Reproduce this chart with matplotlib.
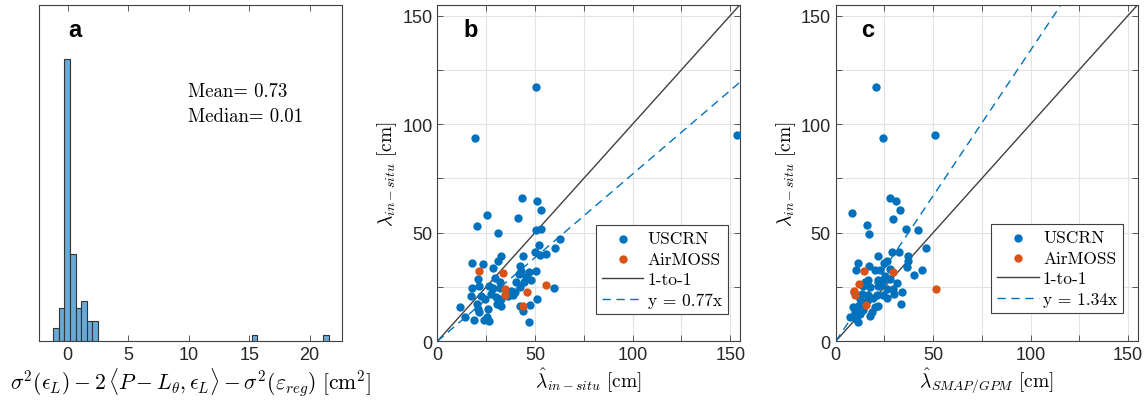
import matplotlib
matplotlib.use("Agg")
import matplotlib.pyplot as plt
import numpy as np

plt.rcParams['font.family'] = ['Liberation Sans', 'DejaVu Sans']
plt.rcParams['mathtext.fontset'] = 'cm'

# panel a: histogram bins (centers) and counts
bin_centers = [-0.96, -0.50, -0.04, 0.43, 0.88, 1.33, 1.80, 2.26, 15.43, 21.34]
bin_counts = [2, 5, 42, 13, 5, 6, 3, 3, 1, 1]
bin_width = 0.46

# panel b: in-situ estimate vs in-situ
b_uscrn_x = [50.6, 19.3, 153.4, 43.3, 51.3, 53.2, 25.5, 41.4, 20.5, 31.1, 50.3, 53.0, 62.6, 52.0,
             60.5, 50.1, 52.6, 55.6, 44.1, 32.5, 31.3, 17.8, 23.4, 28.7, 42.4, 43.1, 46.8, 50.6,
             20.7, 29.4, 32.1, 40.3, 44.4, 41.7, 45.5, 48.2, 17.8, 21.4, 26.7, 28.7, 32.1, 37.8,
             42.4, 59.7, 17.3, 22.6, 24.3, 30.1, 32.7, 39.0, 39.8, 51.3, 20.2, 30.8, 11.6, 21.0,
             26.2, 32.7, 42.4, 47.5, 14.2, 19.0, 24.1, 26.7, 21.5, 43.8, 47.2, 25.3, 36.0, 27.5]
b_uscrn_y = [117.0, 93.6, 94.8, 66.2, 64.6, 60.3, 58.1, 56.7, 53.1, 49.8, 51.3, 51.6, 47.2, 44.4,
             42.9, 40.9, 39.7, 40.4, 39.4, 39.4, 37.1, 36.0, 35.8, 33.7, 34.5, 32.3, 31.7, 32.5,
             28.6, 29.0, 27.1, 27.1, 27.1, 30.9, 29.4, 28.3, 24.7, 25.6, 25.6, 24.5, 24.5, 23.3,
             24.8, 24.7, 20.7, 20.7, 19.7, 20.2, 19.4, 21.3, 22.5, 19.4, 17.1, 17.1, 15.6, 14.8,
             14.8, 16.1, 16.1, 16.7, 11.3, 9.8, 9.8, 9.5, 13.3, 14.1, 8.7, 11.0, 21.0, 22.0]
b_airmoss_x = [21.5, 33.7, 34.9, 34.9, 45.8, 55.9, 44.1]
b_airmoss_y = [32.6, 31.5, 24.3, 21.3, 22.5, 26.0, 16.1]

# panel c: SMAP/GPM estimate vs in-situ
c_uscrn_x = [20.5, 24.1, 50.9, 27.8, 30.9, 33.0, 8.2, 29.5, 16.0, 17.2, 35.9, 42.4, 46.5, 21.9,
             28.7, 32.5, 36.9, 36.9, 26.1, 24.6, 11.3, 10.2, 17.2, 20.2, 22.7, 27.8, 36.4, 44.1,
             40.3, 16.4, 21.5, 24.4, 27.8, 13.8, 17.6, 21.9, 26.1, 29.6, 9.6, 13.3, 16.7, 21.0,
             24.4, 30.1, 33.8, 12.5, 15.9, 26.1, 33.5, 9.0, 11.6, 20.2, 21.9, 18.4, 9.9, 12.5,
             7.3, 10.2, 11.6, 14.0, 19.0, 23.0, 13.0, 17.5, 25.5, 31.5, 15.0]
c_uscrn_y = [117.0, 93.6, 94.8, 66.2, 64.6, 60.3, 59.3, 56.5, 53.5, 49.6, 51.6, 51.2, 43.0, 39.4,
             40.9, 40.9, 39.4, 37.1, 37.1, 36.0, 36.0, 32.9, 34.5, 32.9, 32.9, 33.2, 34.0, 32.9,
             30.5, 28.3, 28.3, 28.3, 28.6, 25.3, 24.8, 25.6, 24.0, 24.0, 22.5, 21.7, 21.3, 21.3,
             21.3, 21.7, 22.8, 19.4, 18.7, 19.8, 17.1, 15.6, 16.1, 15.6, 16.1, 13.6, 13.3, 12.5,
             11.0, 10.3, 9.0, 14.5, 20.0, 26.5, 17.5, 11.5, 30.0, 27.0, 27.5]
c_airmoss_x = [14.5, 29.5, 51.4, 9.8, 9.6, 11.9, 15.5]
c_airmoss_y = [32.5, 31.7, 24.3, 21.3, 23.0, 26.3, 16.7]

b_slope = 0.77
c_slope = 1.34

blue = '#0072BD'
orange = '#D95319'
axcol = '#404040'
serif = 'cmr10'

fig = plt.figure(figsize=(11.48, 4.06), dpi=100)
H = 406.0
W = 1148.0
axa = fig.add_axes([39.3 / W, 1 - 342.3 / H, 303 / W, 336.6 / H])
axb = fig.add_axes([437.3 / W, 1 - 342.3 / H, 302.7 / W, 336.6 / H])
axc = fig.add_axes([835.7 / W, 1 - 342.3 / H, 302.0 / W, 336.6 / H])


def style(ax):
    for s in ax.spines.values():
        s.set_color(axcol)
        s.set_linewidth(0.8)
    ax.tick_params(direction='in', length=4, width=0.6, colors=axcol,
                   labelcolor='#262626', labelsize=13, top=True, right=True)


# ---- a ----
axa.bar(bin_centers, bin_counts, width=bin_width, color='#66AAD7',
        edgecolor='#333333', linewidth=0.8, zorder=2)
axa.set_xlim(-2.35, 22.7)
axa.set_ylim(0, 50)
style(axa)
axa.set_xticks([0, 5, 10, 15, 20])
axa.set_yticks([])
axa.tick_params(right=False)
axa.set_xlabel(r'$\sigma^2(\epsilon_L) - 2\,\langle P - L_\theta, \epsilon_L\rangle - \sigma^2(\varepsilon_{reg})\ [\mathrm{cm}^2]$',
               fontsize=15.5, labelpad=2)
axa.text(0.095, 0.925, 'a', transform=axa.transAxes, fontsize=17,
         fontweight='bold', va='center', ha='left')
axa.text(0.49, 0.744, 'Mean= 0.73', transform=axa.transAxes,
         fontfamily=serif, fontsize=13.5, va='center')
axa.text(0.49, 0.669, 'Median= 0.01', transform=axa.transAxes,
         fontfamily=serif, fontsize=13.5, va='center')


def scatter_panel(ax, ux, uy, ox, oy, slope, letter, xlab, legpos):
    ax.grid(True, color='#e3e3e3', linewidth=0.8, zorder=0)
    ax.scatter(ux, uy, s=36, color=blue, linewidths=0, zorder=3, label='USCRN')
    ax.scatter(ox, oy, s=36, color=orange, linewidths=0, zorder=4, label='AirMOSS')
    xs = np.array([0, 155])
    ax.plot(xs, xs, color='#404040', lw=1.0, zorder=2, label='1-to-1')
    ax.plot(xs, slope * xs, color=blue, lw=1.0, ls=(0, (6, 4)), zorder=2,
            label='y = %.2fx' % slope)
    ax.set_xlim(0, 155)
    ax.set_ylim(0, 155)
    style(ax)
    ticks = list(range(0, 151, 25))
    labels = ['0', '', '50', '', '100', '', '150']
    ax.set_xticks(ticks)
    ax.set_xticklabels(labels)
    ax.set_yticks(ticks)
    ax.set_yticklabels(labels)
    ax.set_axisbelow(True)
    ax.set_xlabel(xlab, fontsize=14, labelpad=2)
    ax.set_ylabel(r'$\lambda_{in-situ}\ [\mathrm{cm}]$', fontsize=14, labelpad=2)
    ax.text(0.085, 0.925, letter, transform=ax.transAxes, fontsize=17,
            fontweight='bold', va='center', ha='left')
    leg = ax.legend(loc='lower right', bbox_to_anchor=legpos, borderaxespad=0,
                    prop={'family': serif, 'size': 12.5}, fancybox=False,
                    framealpha=1, edgecolor='#404040', handlelength=2.4,
                    handletextpad=0.25, labelspacing=0.3, borderpad=0.35,
                    scatterpoints=1)
    leg.get_frame().set_linewidth(0.8)


scatter_panel(axb, b_uscrn_x, b_uscrn_y, b_airmoss_x, b_airmoss_y, b_slope, 'b',
              r'$\hat{\lambda}_{in-situ}\ [\mathrm{cm}]$', (0.96, 0.081))
scatter_panel(axc, c_uscrn_x, c_uscrn_y, c_airmoss_x, c_airmoss_y, c_slope, 'c',
              r'$\hat{\lambda}_{SMAP/GPM}\ [\mathrm{cm}]$', (0.952, 0.084))

fig.savefig('out.png', dpi=100)
